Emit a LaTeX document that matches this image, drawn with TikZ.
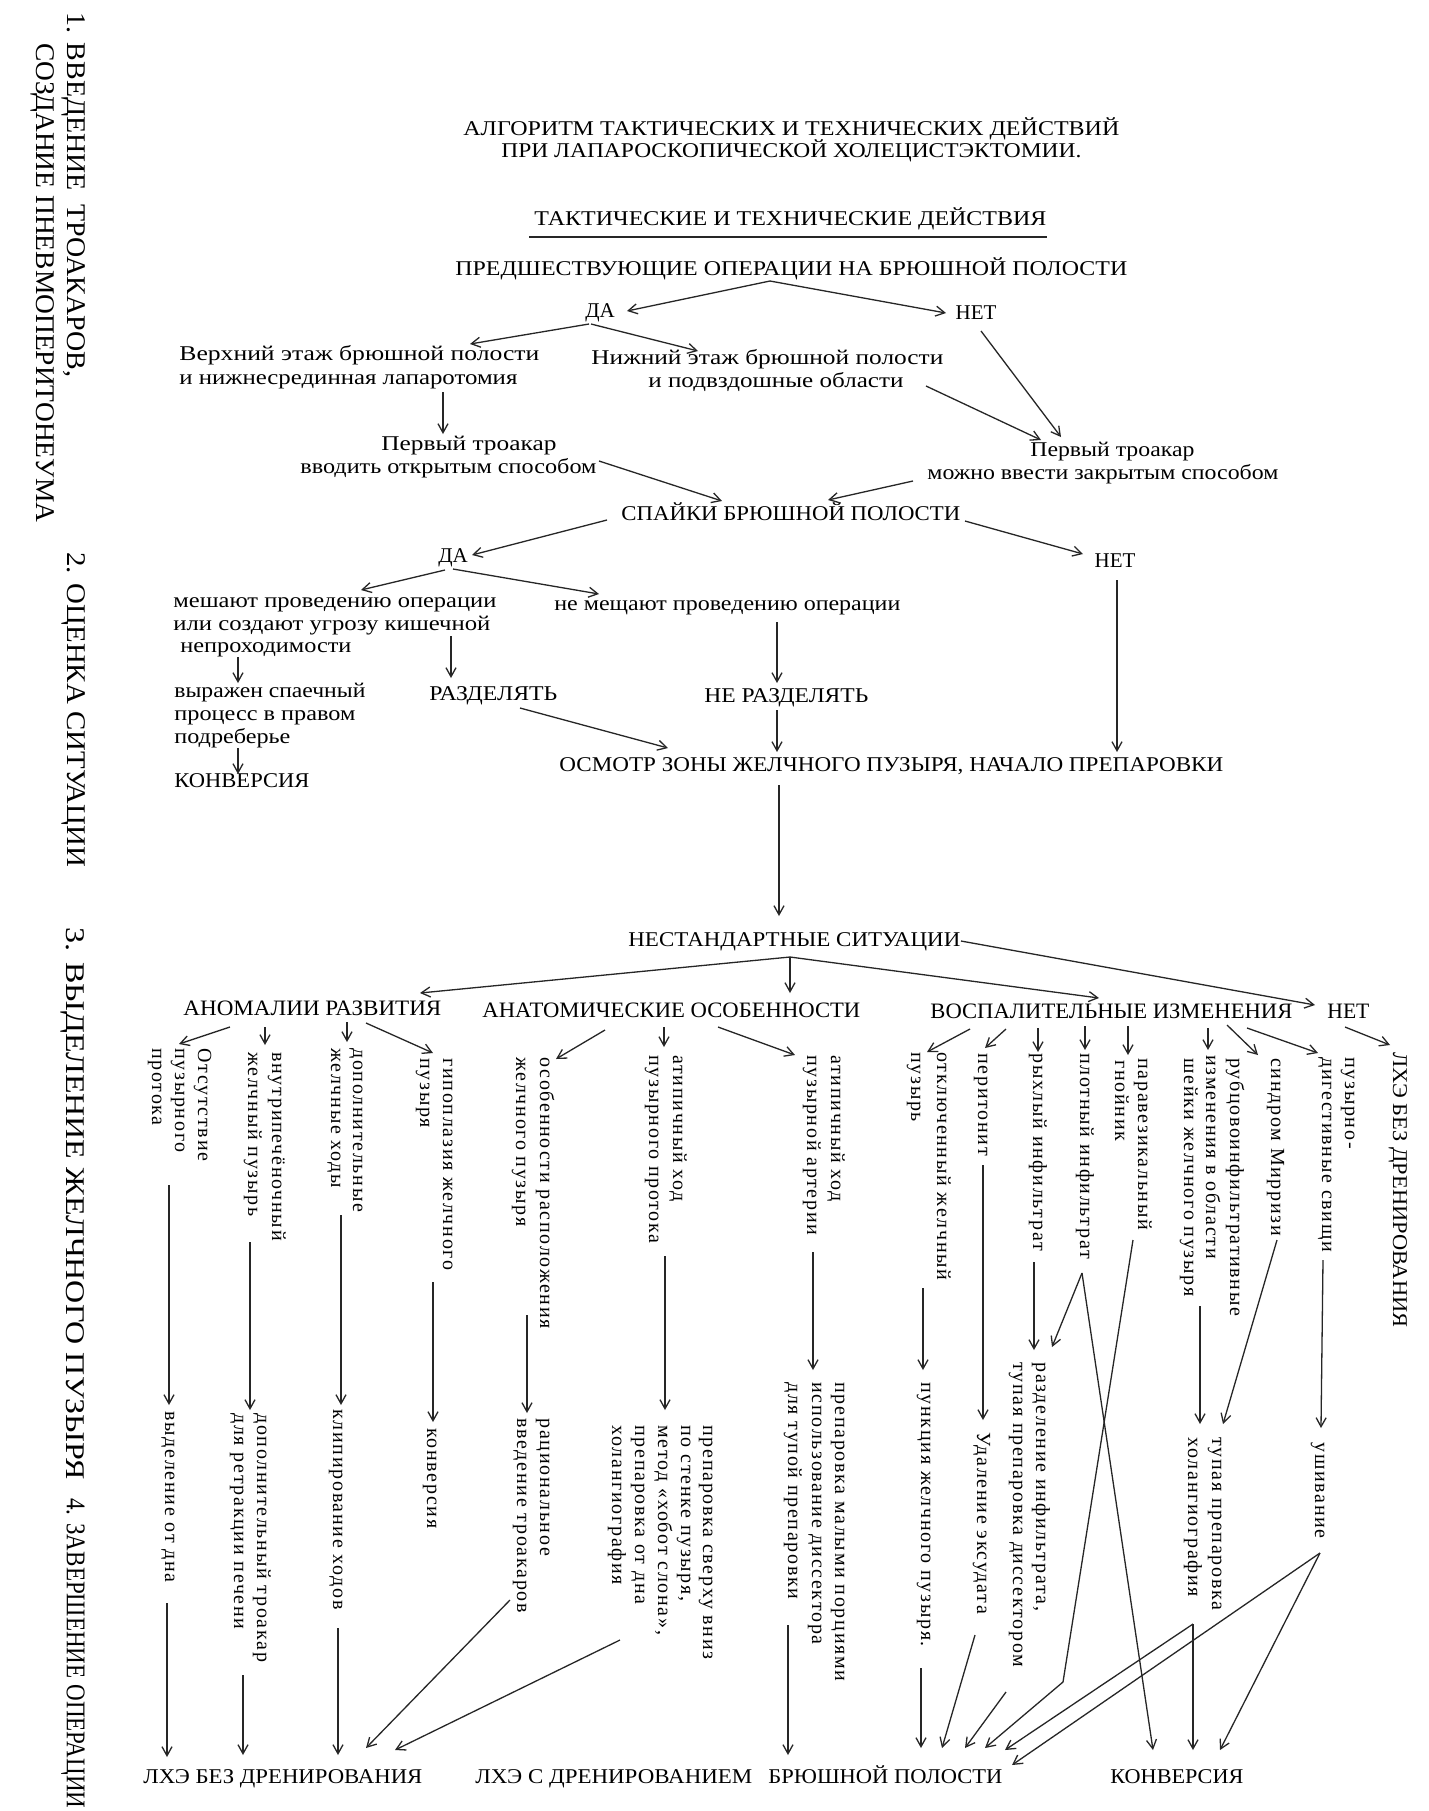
\documentclass[tikz,border=0pt]{standalone}
\usepackage{fontspec}
\usepackage{graphicx}
\setmainfont{Liberation Serif}
\newfontfamily\vf[LetterSpace=8.5]{Liberation Serif}
\usetikzlibrary{arrows.meta}
\newlength\pxu \setlength\pxu{0.5pt}
\newcommand\hw[2]{\resizebox{#1\pxu}{\height}{#2}}
\newcommand\ft{\fontsize{10.5}{12}\selectfont}
\newcommand\fu{\fontsize{10.5}{12}\selectfont}
\newcommand\fk{\fontsize{11}{13}\selectfont}
\newcommand\fsd{\fontsize{13.5}{15}\selectfont}
\tikzset{
  ln/.style={line width=0.65pt, draw=black!85},
  arr/.style={ln, -{Straight Barb[length=4.5pt,width=5pt]}},
  tx/.style={inner sep=0pt, anchor=west, text height=0.7em, text depth=0.2em},
  tt/.style={tx, font=\ft},
  tu/.style={tx, font=\fu},
  tk/.style={tx, font=\fk},
  vt/.style={tx, rotate=-90, font=\vf\fontsize{10}{12}\selectfont},
  vk/.style={tx, rotate=-90, font=\fu},
  sd/.style={tx, rotate=-90, font=\fsd},
}
\begin{document}
\begin{tikzpicture}[x=0.5pt,y=-0.5pt]
\fill[white] (0,0) rectangle (1429,1811);
\useasboundingbox (0,0) rectangle (1429,1811);

% ---------- side labels ----------
\node[sd] (s1a) at (72,12) {\hw{365}{1. ВВЕДЕНИЕ\ \ ТРОАКАРОВ,}};
\node[sd] (s1b) at (42,43) {\hw{479}{СОЗДАНИЕ ПНЕВМОПЕРИТОНЕУМА}};
\node[sd] (s2) at (72,552) {\hw{315}{2. ОЦЕНКА СИТУАЦИИ}};
\node[sd] (s3) at (72,927) {\hw{552}{3. ВЫДЕЛЕНИЕ ЖЕЛЧНОГО ПУЗЫРЯ}};
\node[sd] (s4) at (72,1498) {\hw{310}{4. ЗАВЕРШЕНИЕ ОПЕРАЦИИ}};

% ---------- title ----------
\node[tt] (t1) at (463,130) {\hw{656}{АЛГОРИТМ ТАКТИЧЕСКИХ И ТЕХНИЧЕСКИХ ДЕЙСТВИЙ}};
\node[tt] (t2) at (501,152) {\hw{580}{ПРИ ЛАПАРОСКОПИЧЕСКОЙ ХОЛЕЦИСТЭКТОМИИ.}};
\node[tt] (sub) at (534,220) {\hw{512}{ТАКТИЧЕСКИЕ И ТЕХНИЧЕСКИЕ ДЕЙСТВИЯ}};
\draw[ln] (529,237) -- (1047,237);

% ---------- upper tree ----------
\node[tu] (predsh) at (455,270) {\hw{672}{ПРЕДШЕСТВУЮЩИЕ ОПЕРАЦИИ НА БРЮШНОЙ ПОЛОСТИ}};
\node[tu,anchor=center] (da1) at (600,312) {ДА};
\node[tu,anchor=center] (net1) at (976,314) {НЕТ};
\node[tu] (verh1) at (179,355) {\hw{360}{Верхний этаж брюшной полости}};
\node[tu] (verh2) at (179,379) {\hw{338}{и нижнесрединная лапаротомия}};
\node[tu] (nizh1) at (591,359) {\hw{352}{Нижний этаж брюшной полости}};
\node[tu] (nizh2) at (648,382) {\hw{255}{и подвздошные области}};
\node[tu] (pl1) at (381,445) {\hw{175}{Первый троакар}};
\node[tu] (pl2) at (300,468) {\hw{296}{вводить открытым способом}};
\node[tu] (pr1) at (1030,451) {\hw{164}{Первый троакар}};
\node[tu] (pr2) at (927,474) {\hw{351}{можно ввести закрытым способом}};
\node[tu] (spaik) at (621,515) {\hw{339}{СПАЙКИ БРЮШНОЙ ПОЛОСТИ}};
\node[tu,anchor=center] (da2) at (453,557) {ДА};
\node[tu,anchor=center] (net2) at (1115,562) {НЕТ};
\node[tu] (mesh1) at (173,602) {\hw{323}{мешают проведению операции}};
\node[tu] (mesh2) at (173,625) {\hw{317}{или создают угрозу кишечной}};
\node[tu] (mesh3) at (180,647) {\hw{171}{непроходимости}};
\node[tu] (nemesh) at (554,605) {\hw{346}{не мещают проведению операции}};
\node[tu] (vyr1) at (174,692) {\hw{191}{выражен спаечный}};
\node[tu] (vyr2) at (174,715) {\hw{181}{процесс в правом}};
\node[tu] (vyr3) at (174,738) {\hw{116}{подреберье}};
\node[tu] (konvL) at (174,782) {\hw{135}{КОНВЕРСИЯ}};
\node[tu] (razd) at (429,695) {\hw{128}{РАЗДЕЛЯТЬ}};
\node[tu] (nerazd) at (704,697) {\hw{164}{НЕ РАЗДЕЛЯТЬ}};
\node[tu] (osm) at (559,766) {\hw{664}{ОСМОТР ЗОНЫ ЖЕЛЧНОГО ПУЗЫРЯ, НАЧАЛО ПРЕПАРОВКИ}};
\node[tu] (nest) at (628,941) {\hw{332}{НЕСТАНДАРТНЫЕ СИТУАЦИИ}};

% ---------- group headers ----------
\node[tk] (anom) at (183,1010) {\hw{258}{АНОМАЛИИ РАЗВИТИЯ}};
\node[tk] (anat) at (482,1012) {\hw{378}{АНАТОМИЧЕСКИЕ ОСОБЕННОСТИ}};
\node[tk] (vosp) at (930,1013) {\hw{362}{ВОСПАЛИТЕЛЬНЫЕ ИЗМЕНЕНИЯ}};
\node[tk] (net3) at (1327,1013) {\hw{42}{НЕТ}};

% ---------- first-level columns ----------
\node[vt] (c1a) at (203,1048) {Отсутствие};
\node[vt] (c1b) at (180,1048) {пузырного};
\node[vt] (c1c) at (157,1048) {протока};
\node[vt] (c2a) at (277,1052) {внутрипечёночный};
\node[vt] (c2b) at (253,1052) {желчный пузырь};
\node[vt] (c3a) at (358,1048) {дополнительные};
\node[vt] (c3b) at (336,1048) {желчные ходы};
\node[vt] (c4a) at (448,1058) {гипоплазия желчного};
\node[vt] (c4b) at (425,1058) {пузыря};
\node[vt] (c5a) at (545,1057) {особенности расположения};
\node[vt] (c5b) at (521,1057) {желчного пузыря};
\node[vt] (c6a) at (678,1055) {атипичный ход};
\node[vt] (c6b) at (654,1055) {пузырного протока};
\node[vt] (c7a) at (836,1055) {атипичный ход};
\node[vt] (c7b) at (812,1055) {пузырной артерии};
\node[vt] (c8a) at (942,1052) {отключенный желчный};
\node[vt] (c8b) at (916,1052) {пузырь};
\node[vt] (c9a) at (983,1053) {перитонит};
\node[vt] (c10a) at (1038,1053) {рыхлый инфильтрат};
\node[vt] (c11a) at (1085,1053) {плотный инфильтрат};
\node[vt] (c12a) at (1143,1058) {паравезикальный};
\node[vt] (c12b) at (1120,1060) {гнойник};
\node[vt] (c13a) at (1235,1058) {рубцовоинфильтративные};
\node[vt] (c13b) at (1211,1055) {изменения в области};
\node[vt] (c13c) at (1189,1058) {шейки желчного пузыря};
\node[vt] (c14a) at (1276,1058) {синдром Мирризи};
\node[vt] (c15a) at (1350,1057) {пузырно-};
\node[vt] (c15b) at (1327,1057) {дигестивные свищи};
\node[vk] (c16a) at (1398,1052) {\hw{275}{ЛХЭ БЕЗ ДРЕНИРОВАНИЯ}};

% ---------- second-level columns ----------
\node[vt] (d1a) at (170,1411) {выделение от дна};
\node[vt] (d2a) at (262,1413) {дополнительный троакар};
\node[vt] (d2b) at (239,1413) {для ретракции печени};
\node[vt] (d3a) at (338,1409) {клипирование ходов};
\node[vt] (d4a) at (432,1428) {конверсия};
\node[vt] (d5a) at (545,1418) {рациональное};
\node[vt] (d5b) at (522,1418) {введение троакаров};
\node[vt] (d6a) at (708,1425) {препаровка сверху вниз};
\node[vt] (d6b) at (686,1425) {по стенке пузыря,};
\node[vt] (d6c) at (663,1425) {метод «хобот слона»,};
\node[vt] (d6d) at (640,1425) {препаровка от дна};
\node[vt] (d6e) at (617,1425) {холангиография};
\node[vt] (d7a) at (840,1382) {препаровка малыми порциями};
\node[vt] (d7b) at (817,1382) {использование диссектора};
\node[vt] (d7c) at (793,1382) {для тупой препаровки};
\node[vt] (d8a) at (926,1382) {пункция желчного пузыря.};
\node[vt] (d9a) at (982,1432) {Удаление эксудата};
\node[vt] (d10a) at (1041,1362) {разделение инфильтрата,};
\node[vt] (d10b) at (1018,1362) {тупая препаровка диссектором};
\node[vt] (d13a) at (1217,1437) {тупая препаровка};
\node[vt] (d13b) at (1193,1437) {холангиография};
\node[vt] (d15a) at (1320,1442) {ушивание};

% ---------- bottom outcomes ----------
\node[tu] (lhe1) at (143,1778) {\hw{279}{ЛХЭ БЕЗ ДРЕНИРОВАНИЯ}};
\node[tu] (lhe2) at (475,1778) {\hw{277}{ЛХЭ С ДРЕНИРОВАНИЕМ}};
\node[tu] (brp) at (768,1778) {\hw{234}{БРЮШНОЙ ПОЛОСТИ}};
\node[tu] (konvB) at (1110,1778) {\hw{133}{КОНВЕРСИЯ}};

% ---------- connector end points ----------
\coordinate (p1) at (770,281);
\coordinate (da1L) at (589,324); \coordinate (da1R) at (591,324);
\coordinate (da1in) at (627,311); \coordinate (net1in) at (946,313);
\coordinate (net1out) at (981,331);
\coordinate (verhin) at (470,344); \coordinate (nizhin) at (698,351);
\coordinate (nizhout) at (926,386);
\coordinate (prin1) at (1061,437); \coordinate (prin2) at (1041,440);
\coordinate (verhout) at (443,392); \coordinate (plin) at (443,434);
\coordinate (plout) at (599,461); \coordinate (prout) at (913,481);
\coordinate (spin1) at (722,501); \coordinate (spin2) at (828,500);
\coordinate (spL) at (607,520); \coordinate (spR) at (965,521);
\coordinate (da2in) at (472,555); \coordinate (net2in) at (1083,554);
\coordinate (da2L) at (445,570); \coordinate (da2R) at (453,569);
\coordinate (meshin) at (361,590); \coordinate (nemeshin) at (599,594);
\coordinate (mesh2out) at (451,636); \coordinate (razdin) at (451,678);
\coordinate (mesh3out) at (238,657); \coordinate (vyrin) at (238,683);
\coordinate (nemeshout) at (777,622); \coordinate (nerazdin) at (777,683);
\coordinate (net2out) at (1117,580); \coordinate (osmin1) at (1117,752);
\coordinate (vyrout) at (238,748); \coordinate (konvLin) at (238,774);
\coordinate (nerazdout) at (777,710); \coordinate (osmin2) at (777,752);
\coordinate (razdout) at (520,708); \coordinate (osmin3) at (668,748);
\coordinate (osmout) at (779,785); \coordinate (nestin) at (779,916);
\coordinate (nestR) at (961,941); \coordinate (net3in) at (1315,1005);
\coordinate (nestB) at (790,957);
\coordinate (anomin) at (420,993); \coordinate (anatin) at (790,993); \coordinate (vospin) at (1099,998);

% ---------- upper connectors ----------
\draw[arr] (p1) -- (da1in);
\draw[arr] (p1) -- (net1in);
\draw[arr] (da1L) -- (verhin);
\draw[arr] (da1R) -- (nizhin);
\draw[arr] (net1out) -- (prin1);
\draw[arr] (nizhout) -- (prin2);
\draw[arr] (verhout) -- (plin);
\draw[arr] (plout) -- (spin1);
\draw[arr] (prout) -- (spin2);
\draw[arr] (spL) -- (da2in);
\draw[arr] (spR) -- (net2in);
\draw[arr] (da2L) -- (meshin);
\draw[arr] (da2R) -- (nemeshin);
\draw[arr] (mesh2out) -- (razdin);
\draw[arr] (mesh3out) -- (vyrin);
\draw[arr] (nemeshout) -- (nerazdin);
\draw[arr] (net2out) -- (osmin1);
\draw[arr] (vyrout) -- (konvLin);
\draw[arr] (nerazdout) -- (osmin2);
\draw[arr] (razdout) -- (osmin3);
\draw[arr] (osmout) -- (nestin);
\draw[arr] (nestR) -- (net3in);
\draw[arr] (nestB) -- (anomin);
\draw[arr] (nestB) -- (anatin);
\draw[arr] (nestB) -- (vospin);

% ---------- header connectors ----------
\coordinate (h1s) at (230,1027); \coordinate (h1e) at (179,1044);
\coordinate (h2s) at (265,1027); \coordinate (h2e) at (265,1045);
\coordinate (h3s) at (347,1022); \coordinate (h3e) at (347,1042);
\coordinate (h4s) at (366,1023); \coordinate (h4e) at (433,1053);
\coordinate (h5s) at (605,1030); \coordinate (h5e) at (556,1059);
\coordinate (h6s) at (664,1027); \coordinate (h6e) at (664,1047);
\coordinate (h7s) at (718,1027); \coordinate (h7e) at (795,1055);
\coordinate (h8s) at (970,1029); \coordinate (h8e) at (927,1052);
\coordinate (h9s) at (1006,1029); \coordinate (h9e) at (985,1048);
\coordinate (h10s) at (1038,1028); \coordinate (h10e) at (1038,1052);
\coordinate (h11s) at (1085,1026); \coordinate (h11e) at (1085,1050);
\coordinate (h12s) at (1128,1026); \coordinate (h12e) at (1128,1055);
\coordinate (h13s) at (1208,1028); \coordinate (h13e) at (1208,1050);
\coordinate (h14s) at (1227,1025); \coordinate (h14e) at (1258,1055);
\coordinate (h15s) at (1247,1028); \coordinate (h15e) at (1318,1053);
\coordinate (h16s) at (1345,1027); \coordinate (h16e) at (1390,1045);
\foreach \i in {1,...,16} {\draw[arr] (h\i s) -- (h\i e);}

% ---------- middle connectors ----------
\coordinate (m1s) at (169,1185); \coordinate (m1e) at (169,1405);
\coordinate (m2s) at (250,1242); \coordinate (m2e) at (250,1410);
\coordinate (m3s) at (341,1215); \coordinate (m3e) at (341,1405);
\coordinate (m4s) at (433,1282); \coordinate (m4e) at (433,1422);
\coordinate (m5s) at (527,1315); \coordinate (m5e) at (527,1413);
\coordinate (m6s) at (665,1256); \coordinate (m6e) at (665,1410);
\coordinate (m7s) at (813,1252); \coordinate (m7e) at (813,1370);
\coordinate (m8s) at (923,1288); \coordinate (m8e) at (923,1370);
\coordinate (m9s) at (983,1165); \coordinate (m9e) at (983,1420);
\coordinate (m10s) at (1034,1262); \coordinate (m10e) at (1034,1350);
\coordinate (m11s) at (1082,1273); \coordinate (m11e) at (1052,1347);
\coordinate (m13s) at (1200,1306); \coordinate (m13e) at (1200,1424);
\coordinate (m14s) at (1277,1240); \coordinate (m14e) at (1223,1424);
\coordinate (m15s) at (1323,1260); \coordinate (m15e) at (1321,1428);
\foreach \i in {1,...,11,13,14,15} {\draw[arr] (m\i s) -- (m\i e);}

% ---------- bottom connectors ----------
\coordinate (b1s) at (167,1603); \coordinate (b1e) at (167,1757);
\coordinate (b2s) at (243,1675); \coordinate (b2e) at (243,1755);
\coordinate (b3s) at (338,1628); \coordinate (b3e) at (338,1755);
\coordinate (b5s) at (510,1600); \coordinate (b5e) at (366,1748);
\coordinate (b6s) at (620,1640); \coordinate (b6e) at (395,1750);
\coordinate (b7s) at (788,1625); \coordinate (b7e) at (788,1755);
\coordinate (b8s) at (921,1668); \coordinate (b8e) at (921,1748);
\coordinate (b9s) at (975,1635); \coordinate (b9e) at (942,1748);
\coordinate (b10s) at (1006,1692); \coordinate (b10e) at (965,1748);
\coordinate (bAe) at (1153,1750);
\coordinate (bBs) at (1133,1240); \coordinate (bBk) at (1063,1682); \coordinate (bBe) at (985,1748);
\coordinate (b13s) at (1193,1624); \coordinate (b13e) at (1193,1750); \coordinate (b13f) at (1005,1750);
\coordinate (b15s) at (1320,1553); \coordinate (b15e) at (1012,1765); \coordinate (b15f) at (1220,1750);
\foreach \i in {1,2,3,5,6,7,8,9,10} {\draw[arr] (b\i s) -- (b\i e);}
\draw[arr] (m11s) -- (bAe);
\draw[arr] (bBs) -- (bBk) -- (bBe);
\draw[arr] (b13s) -- (b13e);
\draw[arr] (b13s) -- (b13f);
\draw[arr] (b15s) -- (b15e);
\draw[arr] (b15s) -- (b15f);
\end{tikzpicture}
\end{document}
